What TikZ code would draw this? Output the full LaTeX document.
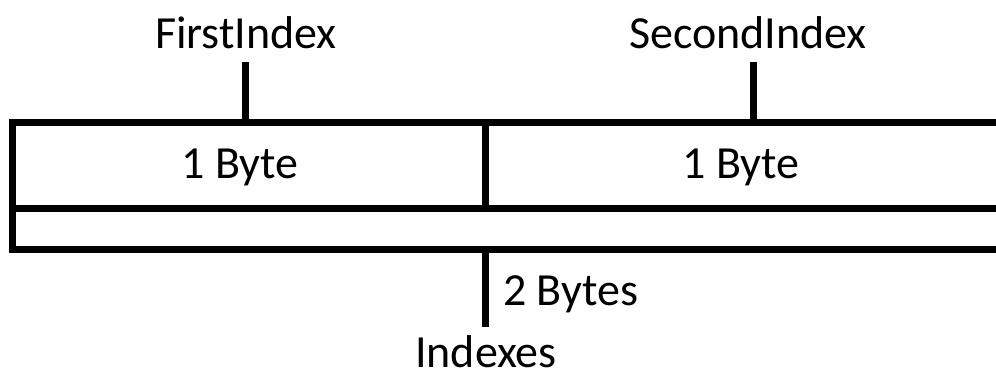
\documentclass[tikz,border=0pt]{standalone}
\usepackage{fontspec}
\setmainfont{Carlito}
\begin{document}
\begin{tikzpicture}[x=1pt,y=-1pt,
  lbl/.style={inner sep=0pt,anchor=base,font=\fontsize{46}{50}\selectfont},
  wire/.style={line width=7pt,black}]
\useasboundingbox (0,0) rectangle (996,381);
\clip (0,0) rectangle (996,381);
% box corners
\coordinate (tl) at (12.7,122);
\coordinate (ml) at (12.7,208);
\coordinate (bl) at (12.7,249.5);
\coordinate (tr) at (1010,122);
\coordinate (mr) at (1010,208);
\coordinate (br) at (1010,249.5);
\coordinate (divtop) at (485,122);
\coordinate (divbot) at (485,208);
\coordinate (sumtop) at (485,249.5);
\coordinate (sumend) at (485,327);
\coordinate (f1) at (245.5,122);
\coordinate (f1e) at (245.5,62);
\coordinate (f2) at (753,122);
\coordinate (f2e) at (753,62);
\draw[wire] (tr) -- (tl) -- (bl) -- (br);
\draw[wire] (ml) -- (mr);
\draw[wire] (divtop) -- (divbot);
\draw[wire] (sumtop) -- (sumend);
\draw[wire] (f1) -- (f1e);
\draw[wire] (f2) -- (f2e);
\node[lbl] (first) at (246,48) {FirstIndex};
\node[lbl] (second) at (748,48) {SecondIndex};
\node[lbl] (b1) at (240,178) {1 Byte};
\node[lbl] (b2) at (741,178) {1 Byte};
\node[lbl,anchor=base west] (b3) at (503,305) {2 Bytes};
\node[lbl] (idx) at (486,367) {Indexes};
\end{tikzpicture}
\end{document}
